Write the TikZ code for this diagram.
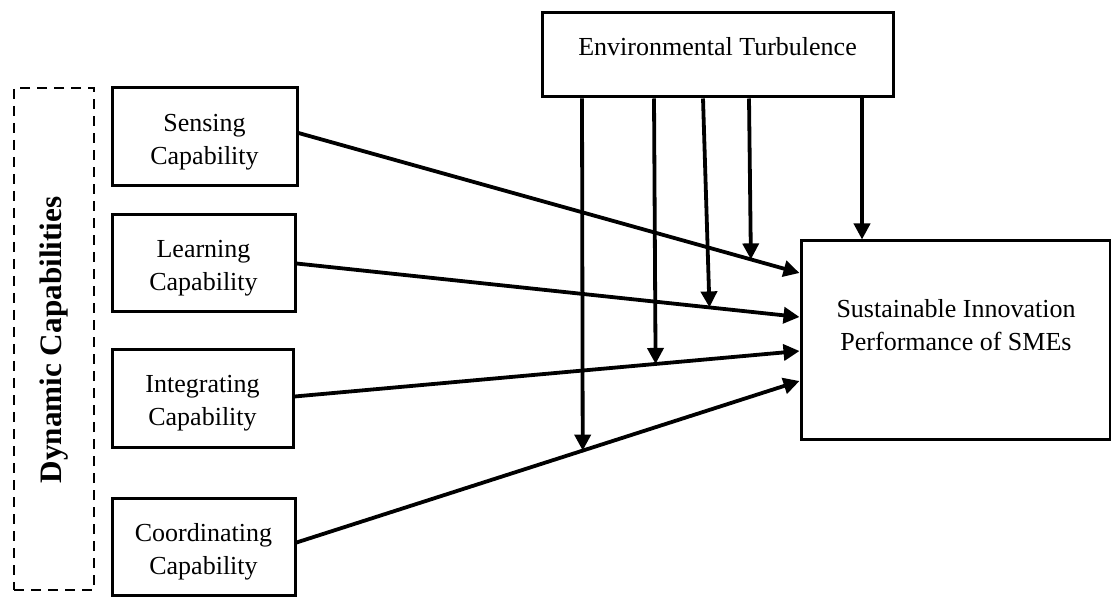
\documentclass[tikz,border=0pt]{standalone}
\usepackage{fontspec}
\setmainfont{Liberation Serif}
\usetikzlibrary{arrows.meta}
\begin{document}
\begin{tikzpicture}[x=0.5pt,y=-0.5pt,
  box/.style={draw, line width=1.5pt, inner sep=0pt},
  txt/.style={inner sep=0pt, align=center, font=\fontsize{13}{16.5}\selectfont},
  boxlabel/.style={label={[txt,yshift=-2.5pt]center:#1}},
  arr/.style={line width=1.9pt, -{Triangle[length=8pt,width=8pt]}},
  dashbox/.style={draw, line width=1.35pt, dash pattern=on 5pt off 3.5pt, inner sep=0pt}
]
\useasboundingbox (0,0) rectangle (1111,603);
\fill[white] (0,0) rectangle (1111,603);

% dashed group
\node[dashbox, minimum width=40pt, minimum height=251pt] (dc) at (54,339) {};
\node[rotate=90, inner sep=0pt, font=\fontsize{15.6}{17}\selectfont\bfseries] (dctxt) at (54,340) {Dynamic Capabilities};

% capability boxes
\node[box, minimum width=92.5pt, minimum height=49pt, boxlabel={Sensing\\Capability}] (sens) at (204.5,137) {};
\node[box, minimum width=91.5pt, minimum height=48.5pt, boxlabel={Learning\\Capability}] (learn) at (203.5,263.5) {};
\node[box, minimum width=90.5pt, minimum height=48.5pt, boxlabel={Integrating\\Capability}] (integ) at (202.5,398.5) {};
\node[box, minimum width=91.5pt, minimum height=48.5pt, boxlabel={Coordinating\\Capability}] (coord) at (203.5,546.5) {};

% moderator and outcome
\node[box, minimum width=175.5pt, minimum height=42pt] (env) at (717.5,55) {};
\node[txt] (envtxt) at (717.5,47) {Environmental Turbulence};
\node[box, minimum width=154.5pt, minimum height=99pt] (sip) at (955.5,340) {};
\node[txt] (siptxt) at (956,325) {Sustainable Innovation\\Performance of SMEs};

% direct effects
\draw[arr] ([yshift=2pt]sens.east) -- coordinate[pos=0.903] (m1) ([yshift=33.5pt]sip.west);
\draw[arr] (learn.east) -- coordinate[pos=0.821] (m2) ([yshift=11.5pt]sip.west);
\draw[arr] ([yshift=1pt]integ.east) -- coordinate[pos=0.715] (m3) ([yshift=-5.5pt]sip.west);
\draw[arr] ([yshift=2pt]coord.east) -- coordinate[pos=0.569] (m4) ([yshift=-20.5pt]sip.west);

% moderating effects
\draw[arr] ([xshift=-67.75pt]env.south) -- (m4);
\draw[arr] ([xshift=-31.75pt]env.south) -- (m3);
\draw[arr] ([xshift=-7.25pt]env.south) -- (m2);
\draw[arr] ([xshift=15.75pt]env.south) -- (m1);
\draw[arr] ([xshift=72.25pt]env.south) -- ([xshift=-46.75pt]sip.north);
\end{tikzpicture}
\end{document}
